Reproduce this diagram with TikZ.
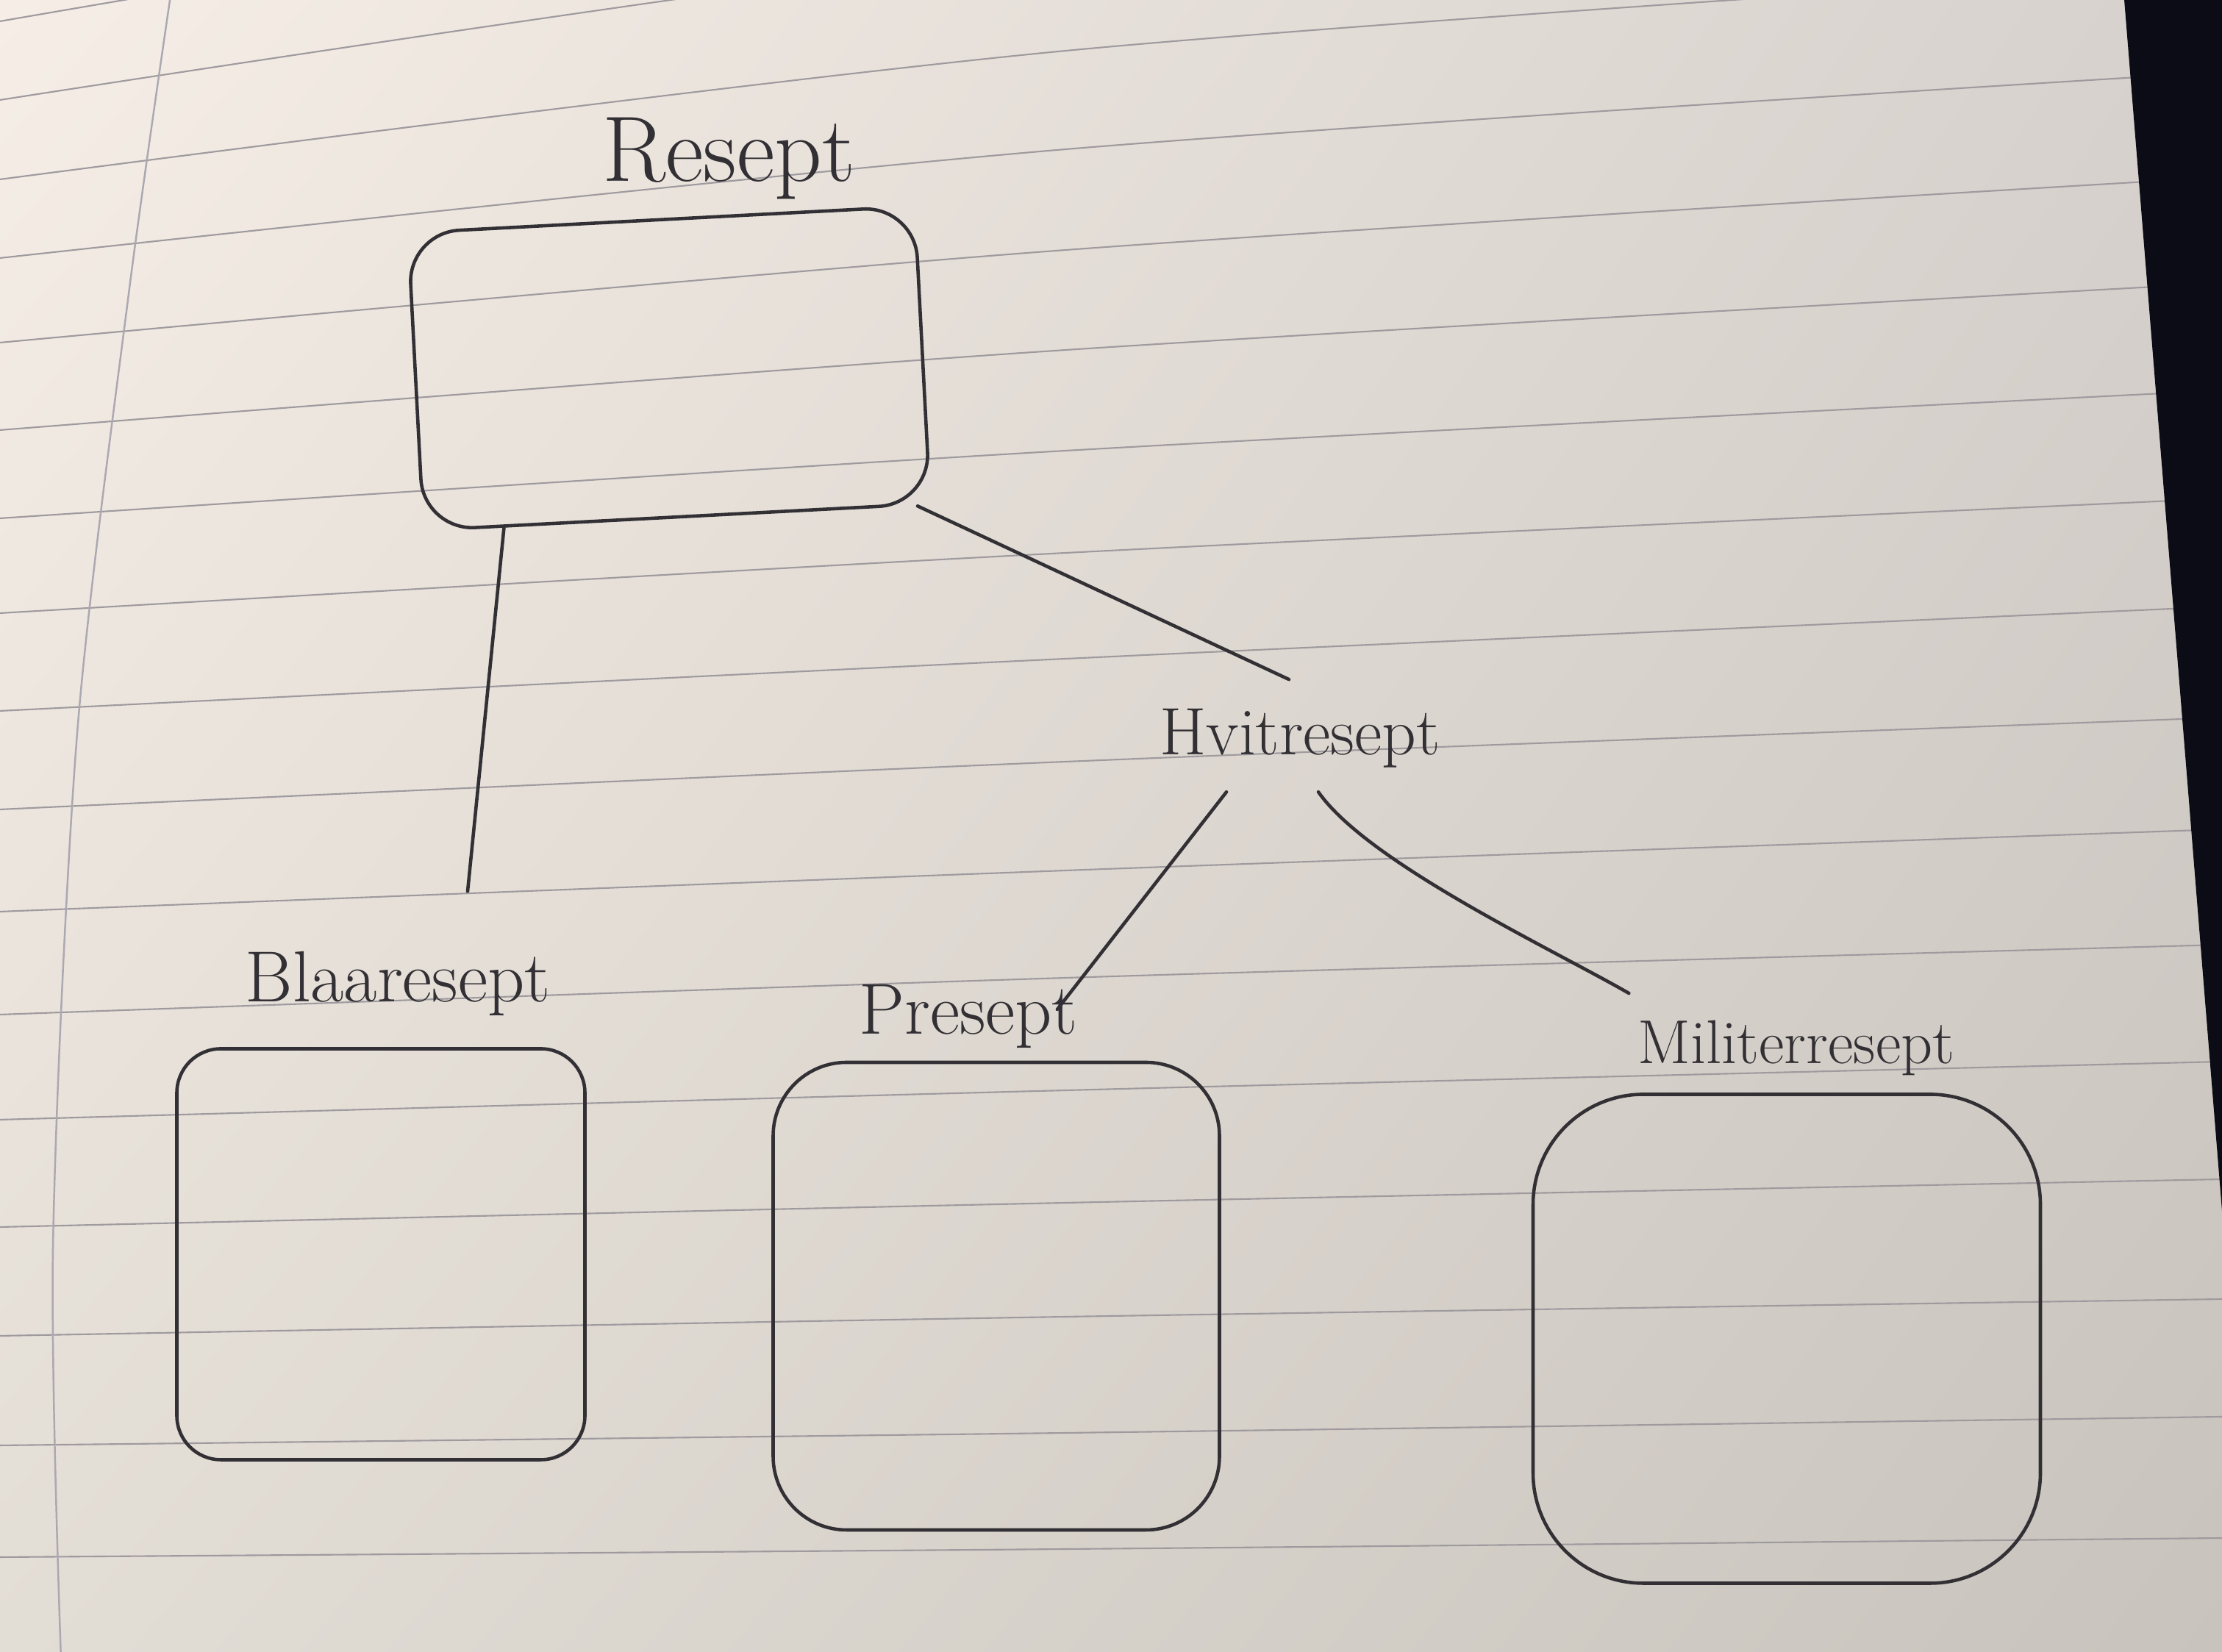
\documentclass[tikz,border=0pt]{standalone}
\usepackage{tikz}
\usetikzlibrary{calc}
\usetikzlibrary{shadings}

\definecolor{ink}{RGB}{50,48,52}
\definecolor{ruling}{RGB}{158,154,158}
\definecolor{margin}{RGB}{172,168,178}
\definecolor{desk}{RGB}{12,12,22}
\definecolor{paperul}{RGB}{246,238,230}
\definecolor{paperur}{RGB}{214,209,205}
\definecolor{paperll}{RGB}{226,221,213}
\definecolor{paperlr}{RGB}{200,195,188}

\tikzset{
  sketchbox/.style={draw=ink, line width=1.3pt, rounded corners=#1, inner sep=0pt},
  sketchbox/.default=0.7cm,
  handtext/.style={text=ink, anchor=base},
  inkline/.style={draw=ink, line width=1.3pt, line cap=round}
}

\begin{document}
\begin{tikzpicture}

\useasboundingbox (0,0) rectangle (30.22,22.47);

% the paper
\shade[upper left=paperul, upper right=paperur, lower left=paperll, lower right=paperlr] (0,0) rectangle (30.22,22.47);
\begin{scope}
\clip (0,0) rectangle (30.22,22.47);
\foreach \l/\m/\r in {1.29/1.40/1.55, 2.81/2.98/3.20, 4.30/4.56/4.80, 5.78/6.11/6.43,
  7.24/7.64/8.03, 8.67/9.17/9.62, 10.07/10.63/11.19, 11.46/12.11/12.71, 12.80/13.51/14.22,
  14.13/14.95/15.69, 15.42/16.34/17.16, 16.62/17.71/18.62, 17.81/19.07/20.06,
  18.96/20.44/21.49, 20.03/21.78/22.91, 21.11/23.17/24.37, 22.18/24.47/25.77}
  \draw[ruling, line width=0.6pt] plot[smooth] coordinates {(0,\l) (14.5,\m) (30.22,\r)};
\draw[margin, line width=0.7pt] plot[smooth] coordinates {(2.33,22.6) (1.75,18.47) (1.05,12.5) (0.72,5.5) (0.83,-0.1)};
\fill[desk] (28.88,22.6) -- (30.4,22.6) -- (30.4,6.0) -- (30.22,6.0) -- cycle;
\end{scope}

% boxes
\node (reseptbox) [sketchbox=0.7cm, minimum width=6.9cm, minimum height=4.05cm, rotate=3] at (9.10, 17.46) {};
\node (blaabox) [sketchbox=0.6cm, minimum width=5.55cm, minimum height=5.59cm] at (5.18, 5.41) {};
\node (preseptbox) [sketchbox=1.0cm, minimum width=6.07cm, minimum height=6.36cm] at (13.55, 4.84) {};
\node (militerbox) [sketchbox=1.5cm, minimum width=6.9cm, minimum height=6.65cm] at (24.30, 4.26) {};

% names
\node (resept) [handtext, font=\fontsize{36}{40}\selectfont] at (9.91, 20.00) {Resept};
\node (hvitresept) [handtext, font=\fontsize{26}{30}\selectfont] at (17.68, 12.20) {Hvitresept};
\node (blaaresept) [handtext, font=\fontsize{28}{32}\selectfont] at (5.41, 8.84) {Blaaresept};
\node (presept) [handtext, font=\fontsize{28}{32}\selectfont] at (13.17, 8.40) {Presept};
\node (militerresept) [handtext, font=\fontsize{24}{28}\selectfont] at (24.43, 8.00) {Militerresept};

% connectors
\draw (reseptbox.-139) edge[inkline] ([xshift=9.5mm,yshift=7mm]blaaresept.north);
\draw (reseptbox.-32) edge[inkline] ([xshift=-1.5mm,yshift=2.8mm]hvitresept.north);
\draw ([xshift=-10mm,yshift=-2mm]hvitresept.south) edge[inkline] ([xshift=-4mm,yshift=1mm]presept.east);
\draw ([xshift=2.5mm,yshift=-2mm]hvitresept.south) edge[inkline,out=-55,in=150,looseness=0.6] ([yshift=2.5mm]militerresept.north west);

\end{tikzpicture}
\end{document}
